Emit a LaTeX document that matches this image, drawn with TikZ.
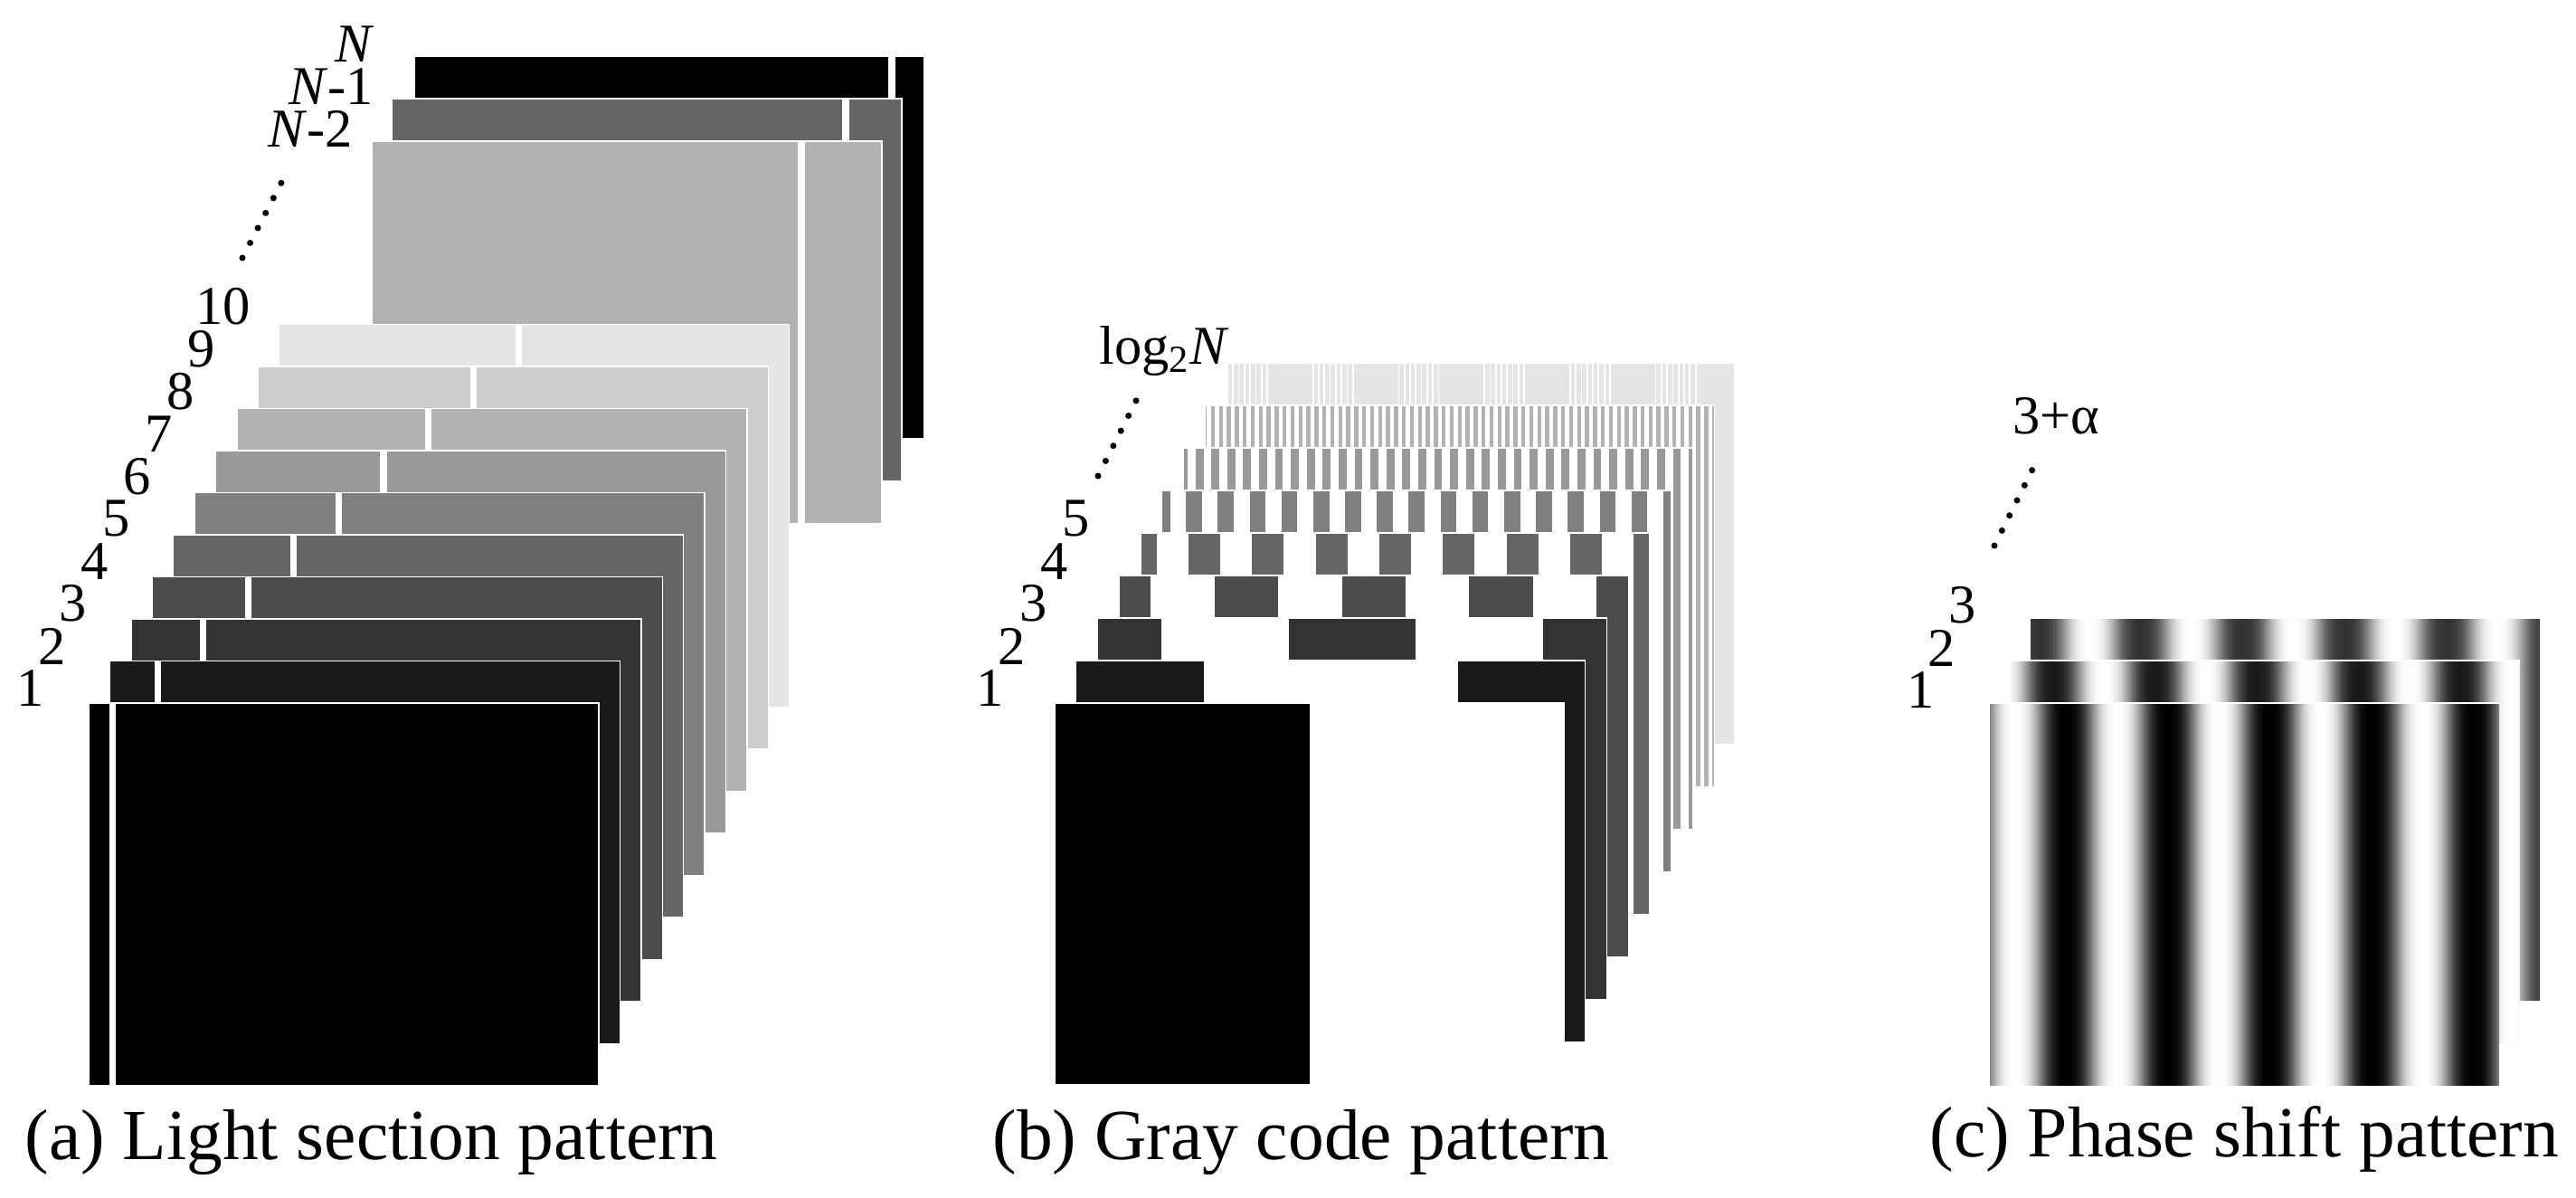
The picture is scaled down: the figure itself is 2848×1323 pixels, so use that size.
\documentclass[tikz,border=0pt]{standalone}
\usepackage{fontspec}
\setmainfont{Liberation Serif}
\usetikzlibrary{calc}

\begin{document}
\begin{tikzpicture}[x=0.01cm,y=-0.01cm,
    numlabel/.style={font=\fontsize{17.2}{18}\selectfont,inner sep=0pt},
    caption/.style={font=\fontsize{22.6}{24}\selectfont,inner sep=0pt,anchor=base west},
    sheet/.style={draw=white,line width=0.4pt},
    slit/.style={draw=white,line width=2pt},
    dotline/.style={line width=2pt,line cap=round,dash pattern=on 0pt off 5.3pt}]
  \useasboundingbox (0,0) rectangle (2848,1323);
  % Light section sheets, back to front
  \foreach \xa/\ya/\tone/\sl in {458/62/100/528,433/109/60/502,411/156/30/475}{
    \fill[black!\tone,sheet] (\xa,\ya) rectangle ++(564,423);
    \draw[slit] ($(\xa,\ya)+(\sl,0)$) -- ++(0,423);
  }
  \foreach \k/\tone in {10/10,9/20,8/30,7/40,6/50,5/60,4/70,3/80,2/90,1/100}{
    \pgfmathsetmacro\xa{98+23.4*(\k-1)}
    \pgfmathsetmacro\ya{777-46.5*(\k-1)}
    \fill[black!\tone,sheet] (\xa,\ya) rectangle ++(564,423);
    \draw[slit] ({\xa+26.6+26.5*(\k-1)},\ya) -- ++(0,423);
  }
  \foreach \k in {1,...,10}{
    \node[numlabel] (a\k) at ({33.5+23.67*(\k-1)},{761-46.9*(\k-1)}) {\k};
  }
  \node[numlabel] (aN) at (392,49) {\textit{N}};
  \node[numlabel] (aNa) at (366,96) {\textit{N}-1};
  \node[numlabel] (aNb) at (343,142) {\textit{N}-2};
  \coordinate (adot1) at (268,285);
  \coordinate (adot2) at (311,202);
  \draw[dotline] (adot1) -- (adot2);
  \node[caption] (capa) at (27,1281) {(a) Light section pattern};

  % Gray code sheets, back to front
  \fill[black!10,sheet] (1356,401) rectangle ++(562,422);
  \foreach \g in {0,...,5}{
    \foreach \j in {0,...,7}{
      \draw[white,line width=0.5pt] ({1357+94.7*\g+6.3*\j},401) -- ++(0,46);
    }
  }
  \foreach \k/\tone in {8/30,7/40,6/50,5/60,4/70,3/80,2/90,1/100}{
    \pgfmathsetmacro\xa{1166+23.75*(\k-1)}
    \pgfmathsetmacro\ya{777-47*(\k-1)}
    \pgfmathsetmacro\barw{563/2^(\k-1)}
    \pgfmathtruncatemacro\nb{2^(\k-2)}
    \fill[white] (\xa,\ya) rectangle ++(563,422);
    \begin{scope}
      \clip (\xa,\ya) rectangle ++(563,422);
      \foreach \j in {0,...,\nb}{
        \fill[black!\tone] ({\xa+(2*\j-0.5)*\barw},\ya) rectangle ++(\barw,422);
      }
    \end{scope}
    \draw[sheet] (\xa,\ya) rectangle ++(563,422);
  }
  \foreach \k in {1,...,5}{
    \node[numlabel] (b\k) at ({1095+23.67*(\k-1)},{761-46.9*(\k-1)}) {\k};
  }
  \node[numlabel] (blog) at (1287,388) {log\textsubscript{2}\textit{N}};
  \coordinate (bdot1) at (1214,526);
  \coordinate (bdot2) at (1257,441);
  \draw[dotline] (bdot1) -- (bdot2);
  \node[caption] (capb) at (1097,1281) {(b) Gray code pattern};

  % Phase shift sheets, back to front
  \foreach \k/\off/\tone in {3/8.5/80,2/46/90,1/83.5/100}{
    \pgfmathsetmacro\xa{2200+22.5*(\k-1)}
    \pgfmathsetmacro\ya{777-47*(\k-1)}
    \begin{scope}
      \clip (\xa,\ya) rectangle ++(563,423);
      \foreach \s in {0,2,...,562}{
        \pgfmathsetmacro\wave{0.5-0.5*cos((\s-\off)/112.6*360)}
        \pgfmathsetmacro\dark{\tone*(1-0.5*\wave-0.5*\wave*\wave*(3-2*\wave))}
        \fill[black!\dark] ({\xa+\s},\ya) rectangle ++(3,423);
      }
    \end{scope}
    \draw[white,line width=0.4pt] (\xa,\ya) -- ++(563,0);
  }
  \foreach \k in {1,2,3}{
    \node[numlabel] (c\k) at ({2124+23*(\k-1)},{763-47*(\k-1)}) {\k};
  }
  \node[numlabel] (calpha) at (2273,460) {3+α};
  \coordinate (cdot1) at (2205,603);
  \coordinate (cdot2) at (2247,519);
  \draw[dotline] (cdot1) -- (cdot2);
  \node[caption] (capc) at (2133,1278) {(c) Phase shift pattern};
\end{tikzpicture}
\end{document}
